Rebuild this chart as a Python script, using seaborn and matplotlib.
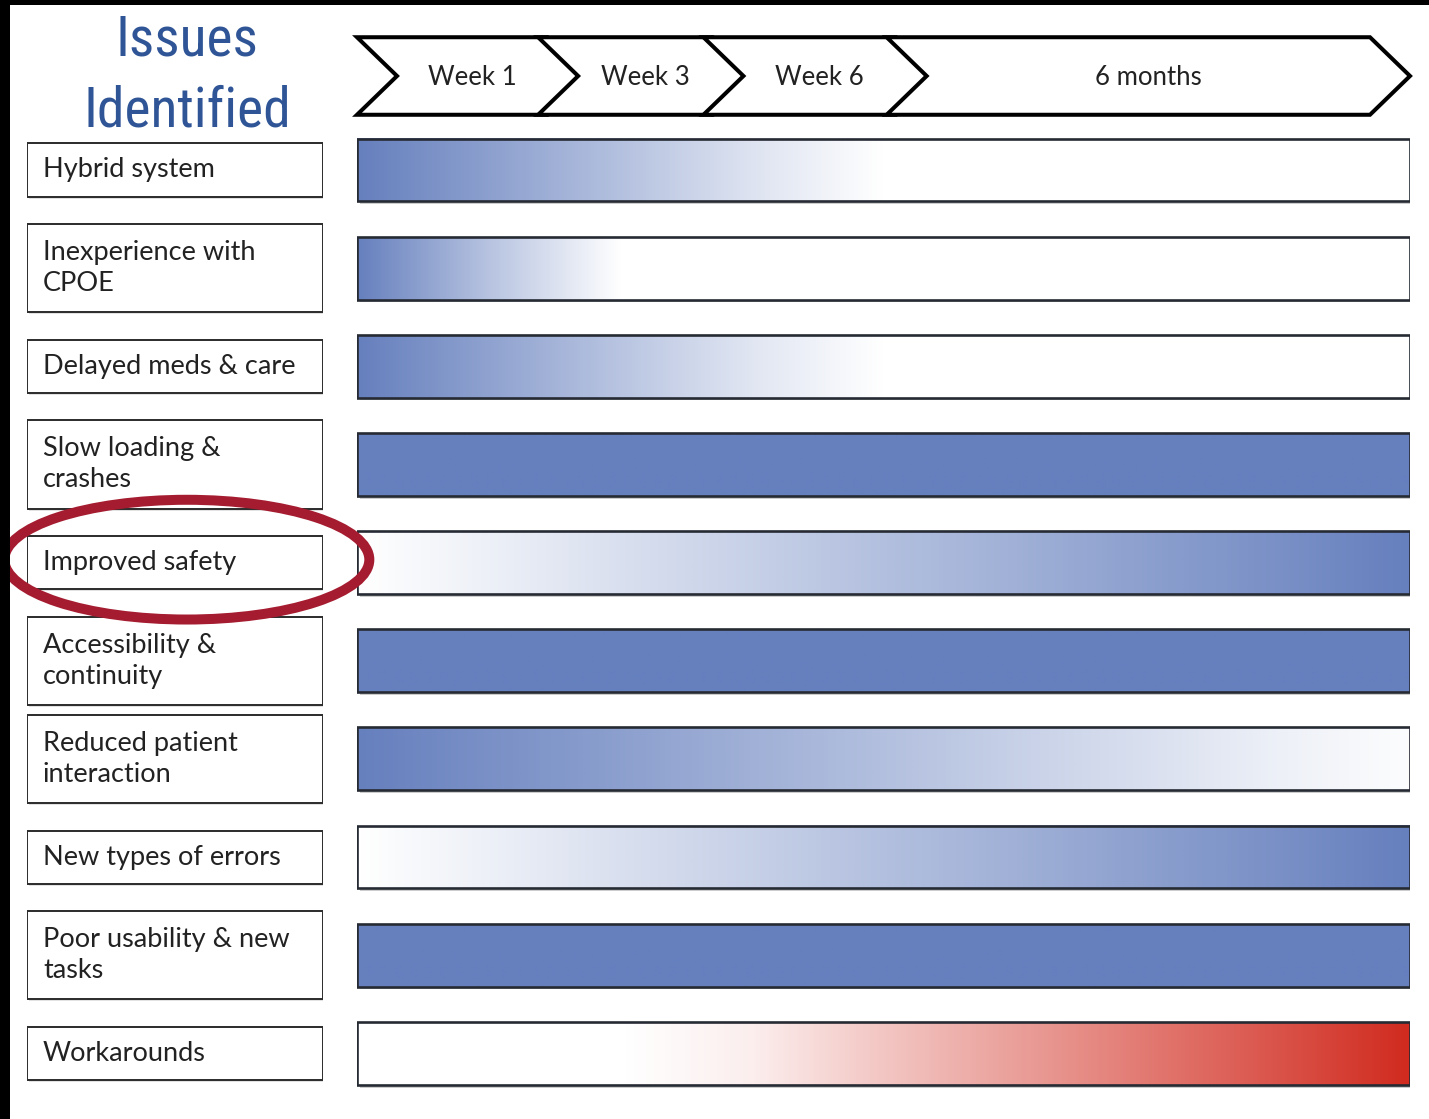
import numpy as np
import matplotlib
matplotlib.use("Agg")
import matplotlib.pyplot as plt
import seaborn as sns
from matplotlib.patches import Rectangle, Polygon, Ellipse
from matplotlib import patheffects as pe
from matplotlib import font_manager as fm

# ---------------- data ----------------
title_lines = ["Issues", "Identified"]
timeline_labels = ["Week 1", "Week 3", "Week 6", "6 months"]
timeline_starts = [0.0, 0.172, 0.329, 0.503]   # fraction of the time axis

issue_labels = [
    "Hybrid system",
    "Inexperience with\nCPOE",
    "Delayed meds & care",
    "Slow loading &\ncrashes",
    "Improved safety",
    "Accessibility &\ncontinuity",
    "Reduced patient\ninteraction",
    "New types of errors",
    "Poor usability & new\ntasks",
    "Workarounds",
]
# intensity of each issue along the time axis, read at 0, 1/8, ..., 1
profile_points = [0.0, 0.125, 0.25, 0.375, 0.5, 0.625, 0.75, 0.875, 1.0]
hybrid_system = [1.0, 0.75, 0.49, 0.22, 0.0, 0.0, 0.0, 0.0, 0.0]
inexperience = [1.0, 0.47, 0.0, 0.0, 0.0, 0.0, 0.0, 0.0, 0.0]
delayed_meds = [1.0, 0.73, 0.46, 0.2, 0.0, 0.0, 0.0, 0.0, 0.0]
slow_loading = [1.0, 1.0, 1.0, 1.0, 1.0, 1.0, 1.0, 1.0, 1.0]
improved_safety = [0.0, 0.12, 0.25, 0.37, 0.5, 0.62, 0.75, 0.87, 1.0]
accessibility = [1.0, 1.0, 1.0, 1.0, 1.0, 1.0, 1.0, 1.0, 1.0]
reduced_interaction = [1.0, 0.87, 0.75, 0.62, 0.5, 0.37, 0.25, 0.12, 0.02]
new_errors = [0.0, 0.12, 0.25, 0.37, 0.5, 0.62, 0.75, 0.87, 1.0]
poor_usability = [1.0, 1.0, 1.0, 1.0, 1.0, 1.0, 1.0, 1.0, 1.0]
workarounds = [0.0, 0.0, 0.0, 0.08, 0.27, 0.45, 0.63, 0.81, 1.0]
issue_profiles = [hybrid_system, inexperience, delayed_meds, slow_loading,
                  improved_safety, accessibility, reduced_interaction,
                  new_errors, poor_usability, workarounds]
issue_kind = ["blue"] * 9 + ["red"]
highlighted = "Improved safety"

# ---------------- style ----------------
sns.set_theme(style="white")
avail = {f.name for f in fm.fontManager.ttflist}
label_font = [f for f in ["Lato", "Open Sans", "DejaVu Sans"] if f in avail]
title_font = [f for f in ["Liberation Sans Narrow", "Roboto Condensed", "DejaVu Sans"] if f in avail]
plt.rcParams["font.family"] = label_font + ["DejaVu Sans"]

BLUE = "#6680BE"
RED = "#D12B1F"
cmaps = {
    "blue": sns.blend_palette(["#FFFFFF", BLUE], as_cmap=True),
    "red": sns.blend_palette(["#FFFFFF", RED], as_cmap=True),
}
TEXT = "#222222"
EDGE = "#262a33"

W, H = 1429, 1119
fig = plt.figure(figsize=(W / 100, H / 100), dpi=100)
fig.patch.set_facecolor("white")

row0_px, row_step = 170.0, 98.15       # pixel centre of first row, row spacing
header_px = 76.0
y_top = -row0_px / row_step
y_bot = (H - row0_px) / row_step
header_y = (header_px - row0_px) / row_step

ax = fig.add_axes([357 / W, 0, 1053 / W, 1])
axl = fig.add_axes([27 / W, 0, 296 / W, 1], sharey=ax)
for a in (ax, axl):
    a.axis("off")
ax.set_xlim(0, 1)
axl.set_xlim(0, 1)
ax.set_ylim(y_bot, y_top)

shadow = [pe.SimplePatchShadow(offset=(2, -2), shadow_rgbFace="#808080", alpha=0.4), pe.Normal()]
shadow_soft = [pe.SimplePatchShadow(offset=(1.5, -1.5), shadow_rgbFace="#a0a0a0", alpha=0.3), pe.Normal()]

# ---------------- timeline chevrons ----------------
depth, gap = 0.038, 0.009
ch_h = 0.79
ends = [s + depth + gap for s in timeline_starts[1:]] + [1.0]
yc = header_y
for lab, a, b in zip(timeline_labels, timeline_starts, ends):
    pts = [(a, yc - ch_h / 2), (b - depth, yc - ch_h / 2), (b, yc),
           (b - depth, yc + ch_h / 2), (a, yc + ch_h / 2), (a + depth, yc)]
    ax.add_patch(Polygon(pts, closed=True, facecolor="white", edgecolor="black",
                         lw=2.9, joinstyle="miter", clip_on=False, zorder=3))
    ax.text((a + b) / 2, yc + 0.02, lab, ha="center", va="center", fontsize=18.5,
            color=TEXT, zorder=4)

# ---------------- bars ----------------
bar_h = 0.64
xs = np.linspace(0, 1, 600)
for i, (prof, kind) in enumerate(zip(issue_profiles, issue_kind)):
    ax.add_patch(Rectangle((0, i - bar_h / 2), 1, bar_h, facecolor="white",
                           edgecolor="none", zorder=1, path_effects=shadow))
    dense = np.interp(xs, profile_points, prof)
    ax.imshow(dense[None, :], cmap=cmaps[kind], vmin=0, vmax=1, aspect="auto",
              extent=(0, 1, i + bar_h / 2, i - bar_h / 2),
              interpolation="bilinear", zorder=2)
    ax.add_patch(Rectangle((0, i - bar_h / 2), 1, bar_h, facecolor="none",
                           edgecolor=EDGE, lw=1.9, zorder=3))

ax.set_xlim(0, 1)
ax.set_ylim(y_bot, y_top)

# ---------------- label boxes ----------------
for i, lab in enumerate(issue_labels):
    nlines = lab.count("\n") + 1
    bh = 0.54 if nlines == 1 else 0.90
    axl.add_patch(Rectangle((0, i - bh / 2), 1, bh, facecolor="white",
                            edgecolor="#2b2b2b", lw=1.4, zorder=2,
                            path_effects=shadow_soft))
    axl.text(0.054, i, lab, ha="left", va="center", fontsize=19.5,
             color=TEXT, linespacing=1.3, zorder=3)
    if lab == highlighted:
        axl.add_patch(Ellipse((0.54, i - 0.03), 1.233, 1.22, facecolor="none",
                              edgecolor="#A51C30", lw=7.2, zorder=5,
                              clip_on=False))

# ---------------- title ----------------
for txt, ypx in zip(title_lines, [40, 111]):
    fig.text(187 / W, 1 - ypx / H, txt, ha="center", va="center",
             fontsize=40, color="#2F5597", family=title_font + ["DejaVu Sans"])

# ---------------- black frame strips ----------------
fig.add_artist(Rectangle((0, 0), 10 / W, 1, transform=fig.transFigure,
                         facecolor="black", edgecolor="none", zorder=10))
fig.add_artist(Rectangle((0, 1 - 5 / H), 1, 5 / H, transform=fig.transFigure,
                         facecolor="black", edgecolor="none", zorder=10))

fig.savefig("out.png", dpi=100, facecolor="white")
